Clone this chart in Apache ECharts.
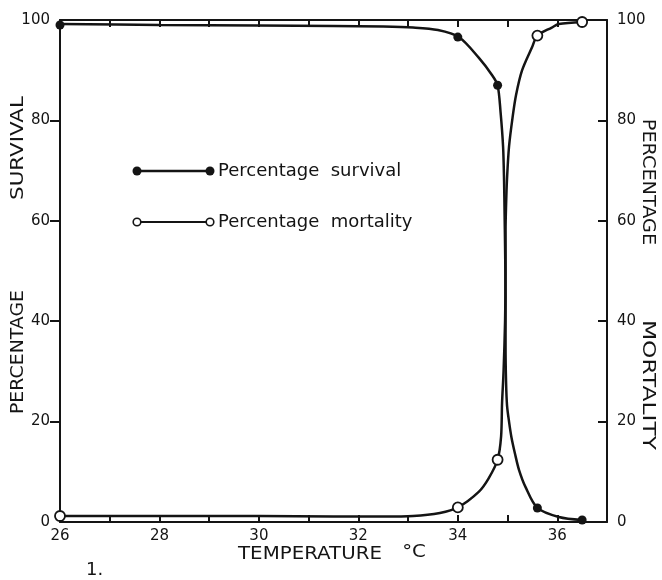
<!DOCTYPE html>
<html>
<head>
<meta charset="utf-8">
<title>Percentage survival and mortality against temperature</title>
<script src="https://cdn.jsdelivr.net/npm/echarts@6/dist/echarts.min.js"></script>
<style>
  html, body { margin: 0; padding: 0; background: #ffffff; }
  #chart { width: 662px; height: 580px; }
</style>
</head>
<body>
<div id="chart"></div>
<script>
// Observed points (temperature °C, percentage)
const temperatures = [26, 34, 34.8, 35.6, 36.5];
const survivalPct = [99, 96.6, 87, 2.8, 0.4];
const mortalityPct = [1.2, 2.9, 12.4, 96.9, 99.6];

// Hand-fitted curves through the observations: [temperature, percentage]
const survivalCurve = [
  [26, 99.2], [28, 99.0], [30, 98.9], [31.5, 98.8], [32.5, 98.7], [33.1, 98.5],
  [33.6, 98.0], [34.02, 96.6], [34.42, 92.5], [34.69, 89.0], [34.8, 87.0],
  [34.86, 81.6], [34.91, 74.8], [34.93, 68], [34.94, 61.7], [34.95, 55],
  [34.96, 45], [34.96, 35], [34.97, 28], [34.99, 23.2], [35.03, 20.0], [35.08, 16.8],
  [35.15, 13.6], [35.23, 10.4], [35.36, 7], [35.6, 2.8], [36.03, 1.0], [36.5, 0.4]
];
const mortalityCurve = [
  [26, 1.2], [28, 1.2], [30, 1.2], [31.5, 1.1], [32.5, 1.1], [33.1, 1.2],
  [33.64, 1.8], [34.0, 2.9], [34.42, 6], [34.62, 8.7], [34.8, 12.4],
  [34.87, 17], [34.89, 23.8], [34.92, 30], [34.95, 40], [34.96, 50],
  [34.96, 58], [34.97, 63], [34.99, 68.5], [35.03, 74.8], [35.1, 80.5], [35.17, 85],
  [35.29, 89.9], [35.49, 94.5], [35.6, 96.9], [35.89, 98.5], [36.03, 99.2], [36.5, 99.6]
];

// Axis ticks and labels
const xTickLabels = [26, 28, 30, 32, 34, 36];
const yTickLabels = [0, 20, 40, 60, 80, 100];
const yTickMarks = [20, 40, 60, 80];

const INK = '#141414';
const TICK_FONT = 'DejaVu Sans';

const chart = echarts.init(document.getElementById('chart'), null, { renderer: 'canvas' });

const lineStyleAxis = { color: INK, width: 2 };
const labelStyle = { color: INK, fontFamily: TICK_FONT, fontSize: 15 };

function pairs(xs, ys) { return xs.map((x, i) => [x, ys[i]]); }

// Wide-lettered caption text, stretched along its baseline
function caption(text, x, y, rotation, stretch, size) {
  return {
    type: 'text', x: x, y: y, rotation: rotation, scaleX: stretch,
    style: {
      text: text, fill: INK, font: (size || 18) + 'px "DejaVu Sans"',
      textAlign: 'center', textVerticalAlign: 'middle'
    }
  };
}

const option = {
  backgroundColor: '#ffffff',
  animation: false,
  grid: { left: 60, right: 55, top: 20, bottom: 58 },
  xAxis: [
    {
      type: 'value', position: 'bottom', min: 26, max: 37, interval: 1,
      axisLine: { show: true, onZero: false, lineStyle: lineStyleAxis },
      axisTick: { show: true, inside: true, length: 7, lineStyle: lineStyleAxis },
      axisLabel: Object.assign({ margin: 7, customValues: xTickLabels }, labelStyle),
      splitLine: { show: false }
    },
    {
      type: 'value', position: 'top', min: 26, max: 37, interval: 1,
      axisLine: { show: true, onZero: false, lineStyle: lineStyleAxis },
      axisTick: { show: true, inside: true, length: 7, lineStyle: lineStyleAxis },
      axisLabel: { show: false },
      splitLine: { show: false }
    }
  ],
  yAxis: [
    {
      type: 'value', position: 'left', min: 0, max: 100, interval: 20,
      axisLine: { show: true, onZero: false, lineStyle: lineStyleAxis },
      axisTick: { show: true, inside: false, length: 10, customValues: yTickMarks, lineStyle: lineStyleAxis },
      axisLabel: Object.assign({ margin: 10, customValues: yTickLabels }, labelStyle),
      splitLine: { show: false }
    },
    {
      type: 'value', position: 'right', min: 0, max: 100, interval: 20,
      axisLine: { show: true, onZero: false, lineStyle: lineStyleAxis },
      axisTick: { show: true, inside: true, length: 9, customValues: yTickMarks, lineStyle: lineStyleAxis },
      axisLabel: Object.assign({ margin: 10, customValues: yTickLabels }, labelStyle),
      splitLine: { show: false }
    }
  ],
  series: [
    {
      name: 'Percentage survival curve', type: 'line', xAxisIndex: 0, yAxisIndex: 0,
      data: survivalCurve, smooth: 0.3, showSymbol: false, symbol: 'none',
      lineStyle: { color: INK, width: 2.5 }, z: 3
    },
    {
      name: 'Percentage mortality curve', type: 'line', xAxisIndex: 0, yAxisIndex: 1,
      data: mortalityCurve, smooth: 0.3, showSymbol: false, symbol: 'none',
      lineStyle: { color: INK, width: 2.5 }, z: 3
    },
    {
      name: 'Percentage survival', type: 'scatter', xAxisIndex: 0, yAxisIndex: 0,
      data: pairs(temperatures, survivalPct), symbol: 'circle', symbolSize: 9,
      itemStyle: { color: INK, opacity: 1 }, z: 5
    },
    {
      name: 'Percentage mortality', type: 'scatter', xAxisIndex: 0, yAxisIndex: 1,
      data: pairs(temperatures, mortalityPct), symbol: 'circle', symbolSize: 10,
      itemStyle: { color: '#ffffff', borderColor: INK, borderWidth: 1.8, opacity: 1 }, z: 5
    }
  ],
  graphic: [
    // Key
    { type: 'line', shape: { x1: 137, y1: 171, x2: 210, y2: 171 }, style: { stroke: INK, lineWidth: 2.5 }, z: 10 },
    { type: 'circle', shape: { cx: 137, cy: 171, r: 4.5 }, style: { fill: INK }, z: 11 },
    { type: 'circle', shape: { cx: 210, cy: 171, r: 4.5 }, style: { fill: INK }, z: 11 },
    { type: 'text', x: 218, y: 171, style: { text: 'Percentage  survival', fill: INK, font: '18px "DejaVu Sans"', textVerticalAlign: 'middle' }, z: 10 },
    { type: 'line', shape: { x1: 137, y1: 222, x2: 210, y2: 222 }, style: { stroke: INK, lineWidth: 2 }, z: 10 },
    { type: 'circle', shape: { cx: 137, cy: 222, r: 3.8 }, style: { fill: '#ffffff', stroke: INK, lineWidth: 1.6 }, z: 11 },
    { type: 'circle', shape: { cx: 210, cy: 222, r: 3.8 }, style: { fill: '#ffffff', stroke: INK, lineWidth: 1.6 }, z: 11 },
    { type: 'text', x: 218, y: 222, style: { text: 'Percentage  mortality', fill: INK, font: '18px "DejaVu Sans"', textVerticalAlign: 'middle' }, z: 10 },
    // Axis titles
    caption('SURVIVAL', 18, 148, Math.PI / 2, 1.19),
    caption('PERCENTAGE', 18, 352, Math.PI / 2, 1.05),
    caption('PERCENTAGE', 648, 182, -Math.PI / 2, 1.07),
    caption('MORTALITY', 648, 385, -Math.PI / 2, 1.3),
    caption('TEMPERATURE', 310, 554, 0, 1.1),
    caption('°C', 414, 552, 0, 1.1),
    // Figure number
    { type: 'text', x: 86, y: 561, style: { text: '1.', fill: INK, font: '18px "DejaVu Sans"' } }
  ]
};

chart.setOption(option);
</script>
</body>
</html>
